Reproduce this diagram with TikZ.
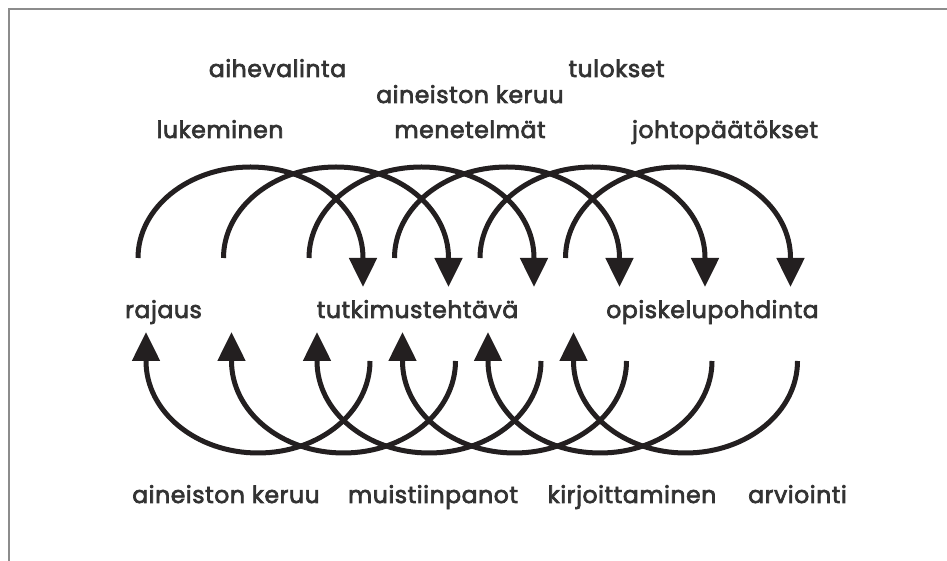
\documentclass[tikz,border=0pt]{standalone}
\usepackage{fontspec}
\setmainfont{Poppins}[FakeBold=3, LetterSpace=2.5]
\usetikzlibrary{arrows.meta}
\definecolor{ink}{HTML}{231F20}
\definecolor{txt}{HTML}{333333}
\definecolor{frame}{HTML}{8C8C8C}
\tikzset{
  lbl/.style={anchor=base, inner sep=0pt, text=txt, font=\fontsize{23.5}{24}\selectfont},
  toparc/.style={draw=ink, line width=5pt, -{Triangle[width=27pt,length=29pt]}},
  botarc/.style={draw=ink, line width=5pt, -{Triangle[width=27pt,length=29pt]}},
}
\begin{document}
\begin{tikzpicture}[x=1pt,y=1pt]
\useasboundingbox (0,0) rectangle (947,561);
\fill[white] (0,0) rectangle (947,561);
% frame
\draw[frame, line width=2pt] (9,0) -- (9,552) -- (947,552);
% labels
\node[lbl] (aihe) at (277.5,484) {aihevalinta};
\node[lbl] (tulo) at (616.5,484) {tulokset};
\node[lbl] (ainT) at (470,458) {aineiston keruu};
\node[lbl] (luke) at (220,423) {lukeminen};
\node[lbl] (mene) at (470,423) {menetelmät};
\node[lbl] (joht) at (725,423) {johtopäätökset};
\node[lbl] (raja) at (163.5,243) {rajaus};
\node[lbl] (tutk) at (417.5,243) {tutkimustehtävä};
\node[lbl] (opis) at (712.5,243) {opiskelupohdinta};
\node[lbl] (ainB) at (226,58) {aineiston keruu};
\node[lbl] (muis) at (433,58) {muistiinpanot};
\node[lbl] (kirj) at (632,58) {kirjoittaminen};
\node[lbl] (arvi) at (797.5,58) {arviointi};
% top arcs: start points and arrow tips
\foreach \i/\sx in {1/138,2/223.5,3/309,4/394.5,5/480,6/565.5}{
  \coordinate (ts\i) at (\sx,303);
  \coordinate (te\i) at (\sx+225,274);
  \draw[toparc] (ts\i) arc[start angle=180, end angle=0, x radius=112.5pt, y radius=91pt] -- (te\i);
}
% bottom arcs
\foreach \i/\sx in {1/370,2/455.5,3/541,4/626.5,5/712,6/797.5}{
  \coordinate (bs\i) at (\sx,200);
  \coordinate (be\i) at (\sx-224,229);
  \draw[botarc] (bs\i) arc[start angle=0, end angle=-180, x radius=112pt, y radius=92pt] -- (be\i);
}
\end{tikzpicture}
\end{document}
